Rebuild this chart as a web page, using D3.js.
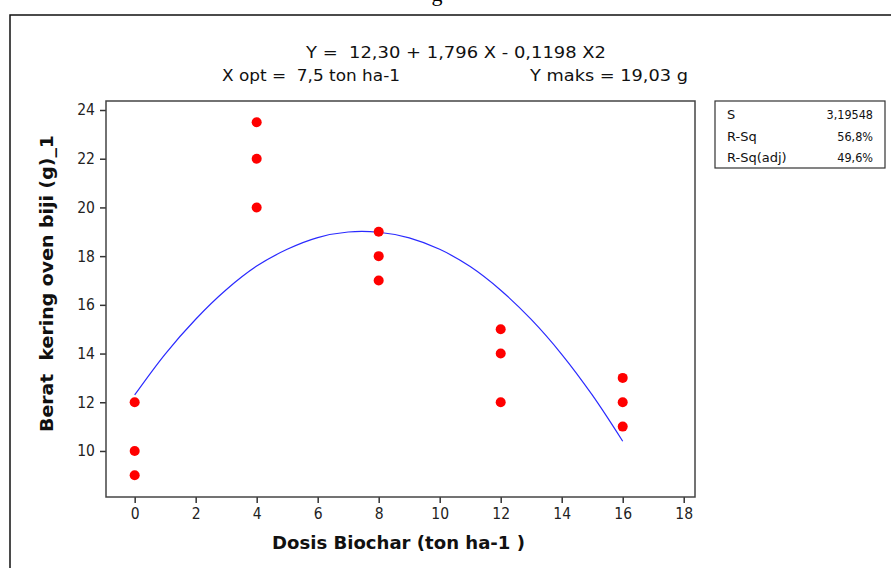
<!DOCTYPE html>
<html>
<head>
<meta charset="utf-8">
<script src="https://cdn.jsdelivr.net/npm/d3@7"></script>
<style>
  body { margin: 0; background: #fff; }
  svg text { font-family: Tahoma, "DejaVu Sans Condensed", "DejaVu Sans", sans-serif; white-space: pre; }
</style>
</head>
<body>
<div id="chart"></div>
<script>
// observed points: dose (ton/ha) and dry weight (g)
const doses   = [0, 0, 0, 4, 4, 4, 8, 8, 8, 12, 12, 12, 16, 16, 16];
const weights = [12, 10, 9, 23.5, 22, 20, 19, 18, 17, 15, 14, 12, 13, 12, 11];

// fitted curve
const fitX = [0, 1, 2, 3, 4, 5, 6, 7, 8, 9, 10, 11, 12, 13, 14, 15, 16];
const fitY = [12.3, 13.98, 15.41, 16.62, 17.59, 18.28, 18.76, 18.99, 18.98,
              18.75, 18.28, 17.57, 16.6, 15.4, 13.97, 12.3, 10.4];

const xTicks = [0, 2, 4, 6, 8, 10, 12, 14, 16, 18];
const yTicks = [10, 12, 14, 16, 18, 20, 22, 24];

const statNames  = ["S", "R-Sq", "R-Sq(adj)"];
const statValues = ["3,19548", "56,8%", "49,6%"];

const W = 891, H = 568;
const margin = {top: 101, right: 196, bottom: 71, left: 106};
const width = W - margin.left - margin.right;
const height = H - margin.top - margin.bottom;

const svg = d3.select("#chart").append("svg")
  .attr("width", W)
  .attr("height", H);

// caption cut off at the top of the picture
svg.append("text")
  .attr("x", 437).attr("y", 1)
  .attr("text-anchor", "middle")
  .style("font-family", "'Liberation Serif', serif")
  .style("font-size", "22px")
  .text("g");

// outer frame
svg.append("rect")
  .attr("x", 10).attr("y", 15)
  .attr("width", 900).attr("height", 600)
  .attr("fill", "none")
  .attr("stroke", "#111")
  .attr("stroke-width", 1.5);

// equation lines
function headText(tx, ty, len, s) {
  svg.append("text")
    .attr("x", tx).attr("y", ty)
    .attr("textLength", len)
    .attr("lengthAdjust", "spacingAndGlyphs")
    .style("font-family", "'DejaVu Sans', sans-serif")
    .style("font-size", "15.5px")
    .attr("fill", "#111")
    .text(s);
}
headText(306, 58, 300, "Y =  12,30 + 1,796 X - 0,1198 X2");
headText(222, 81, 178, "X opt =  7,5 ton ha-1");
headText(530, 81, 158, "Y maks = 19,03 g");

const g = svg.append("g")
  .attr("transform", "translate(" + margin.left + "," + margin.top + ")");

const x = d3.scaleLinear().domain([-0.94, 18.37]).range([0, width]);
const y = d3.scaleLinear().domain([8.11, 24.37]).range([height, 0]);

// axes
const xAxis = g.append("g")
  .attr("transform", "translate(0," + height + ")")
  .call(d3.axisBottom(x).tickValues(xTicks).tickSize(6).tickPadding(5).tickSizeOuter(0));
const yAxis = g.append("g")
  .call(d3.axisLeft(y).tickValues(yTicks).tickSize(6).tickPadding(5).tickSizeOuter(0));

[xAxis, yAxis].forEach(function(a) {
  a.select(".domain").remove();
  a.selectAll(".tick line").attr("stroke", "#333").attr("stroke-width", 1.5);
  a.selectAll(".tick text")
    .attr("fill", "#222")
    .style("font-size", "15.5px")
    .style("font-family", "Tahoma, 'DejaVu Sans Condensed', 'DejaVu Sans', sans-serif");
});

// plot border
g.append("rect")
  .attr("width", width).attr("height", height)
  .attr("fill", "none")
  .attr("stroke", "#444")
  .attr("stroke-width", 1.5);

// fitted line
const fitData = fitX.map(function(d, i) { return [d, fitY[i]]; });
g.append("path")
  .datum(fitData)
  .attr("fill", "none")
  .attr("stroke", "#2a2aff")
  .attr("stroke-width", 1.2)
  .attr("d", d3.line()
    .x(function(d) { return x(d[0]); })
    .y(function(d) { return y(d[1]); })
    .curve(d3.curveCatmullRom));

// points
const pts = doses.map(function(d, i) { return {dose: d, w: weights[i]}; });
g.selectAll("circle.pt")
  .data(pts)
  .enter().append("circle")
  .attr("class", "pt")
  .attr("cx", function(d) { return x(d.dose); })
  .attr("cy", function(d) { return y(d.w); })
  .attr("r", 5)
  .attr("fill", "#ff0000");

// axis titles
svg.append("text")
  .attr("x", 272).attr("y", 549)
  .attr("textLength", 253)
  .attr("lengthAdjust", "spacingAndGlyphs")
  .style("font-family", "'DejaVu Sans', sans-serif")
  .style("font-size", "17.5px")
  .style("font-weight", "bold")
  .attr("fill", "#111")
  .text("Dosis Biochar (ton ha-1 )");
svg.append("text")
  .attr("transform", "translate(53,432) rotate(-90)")
  .attr("textLength", 297)
  .attr("lengthAdjust", "spacingAndGlyphs")
  .style("font-family", "'DejaVu Sans', sans-serif")
  .style("font-size", "17.5px")
  .style("font-weight", "bold")
  .attr("fill", "#111")
  .text("Berat  kering oven biji (g)_1");

// stats box
const box = svg.append("g").attr("transform", "translate(715,101)");
box.append("rect")
  .attr("width", 170).attr("height", 67)
  .attr("fill", "#fff")
  .attr("stroke", "#333")
  .attr("stroke-width", 1.2);
statNames.forEach(function(n, i) {
  box.append("text")
    .attr("x", 12).attr("y", 18 + i * 21.5)
    .style("font-family", "'DejaVu Sans', sans-serif")
    .style("font-size", "13px")
    .attr("fill", "#111")
    .text(n);
  box.append("text")
    .attr("x", 158).attr("y", 18 + i * 21.5)
    .attr("text-anchor", "end")
    .style("font-size", "12.5px")
    .attr("fill", "#111")
    .text(statValues[i]);
});
</script>
</body>
</html>
